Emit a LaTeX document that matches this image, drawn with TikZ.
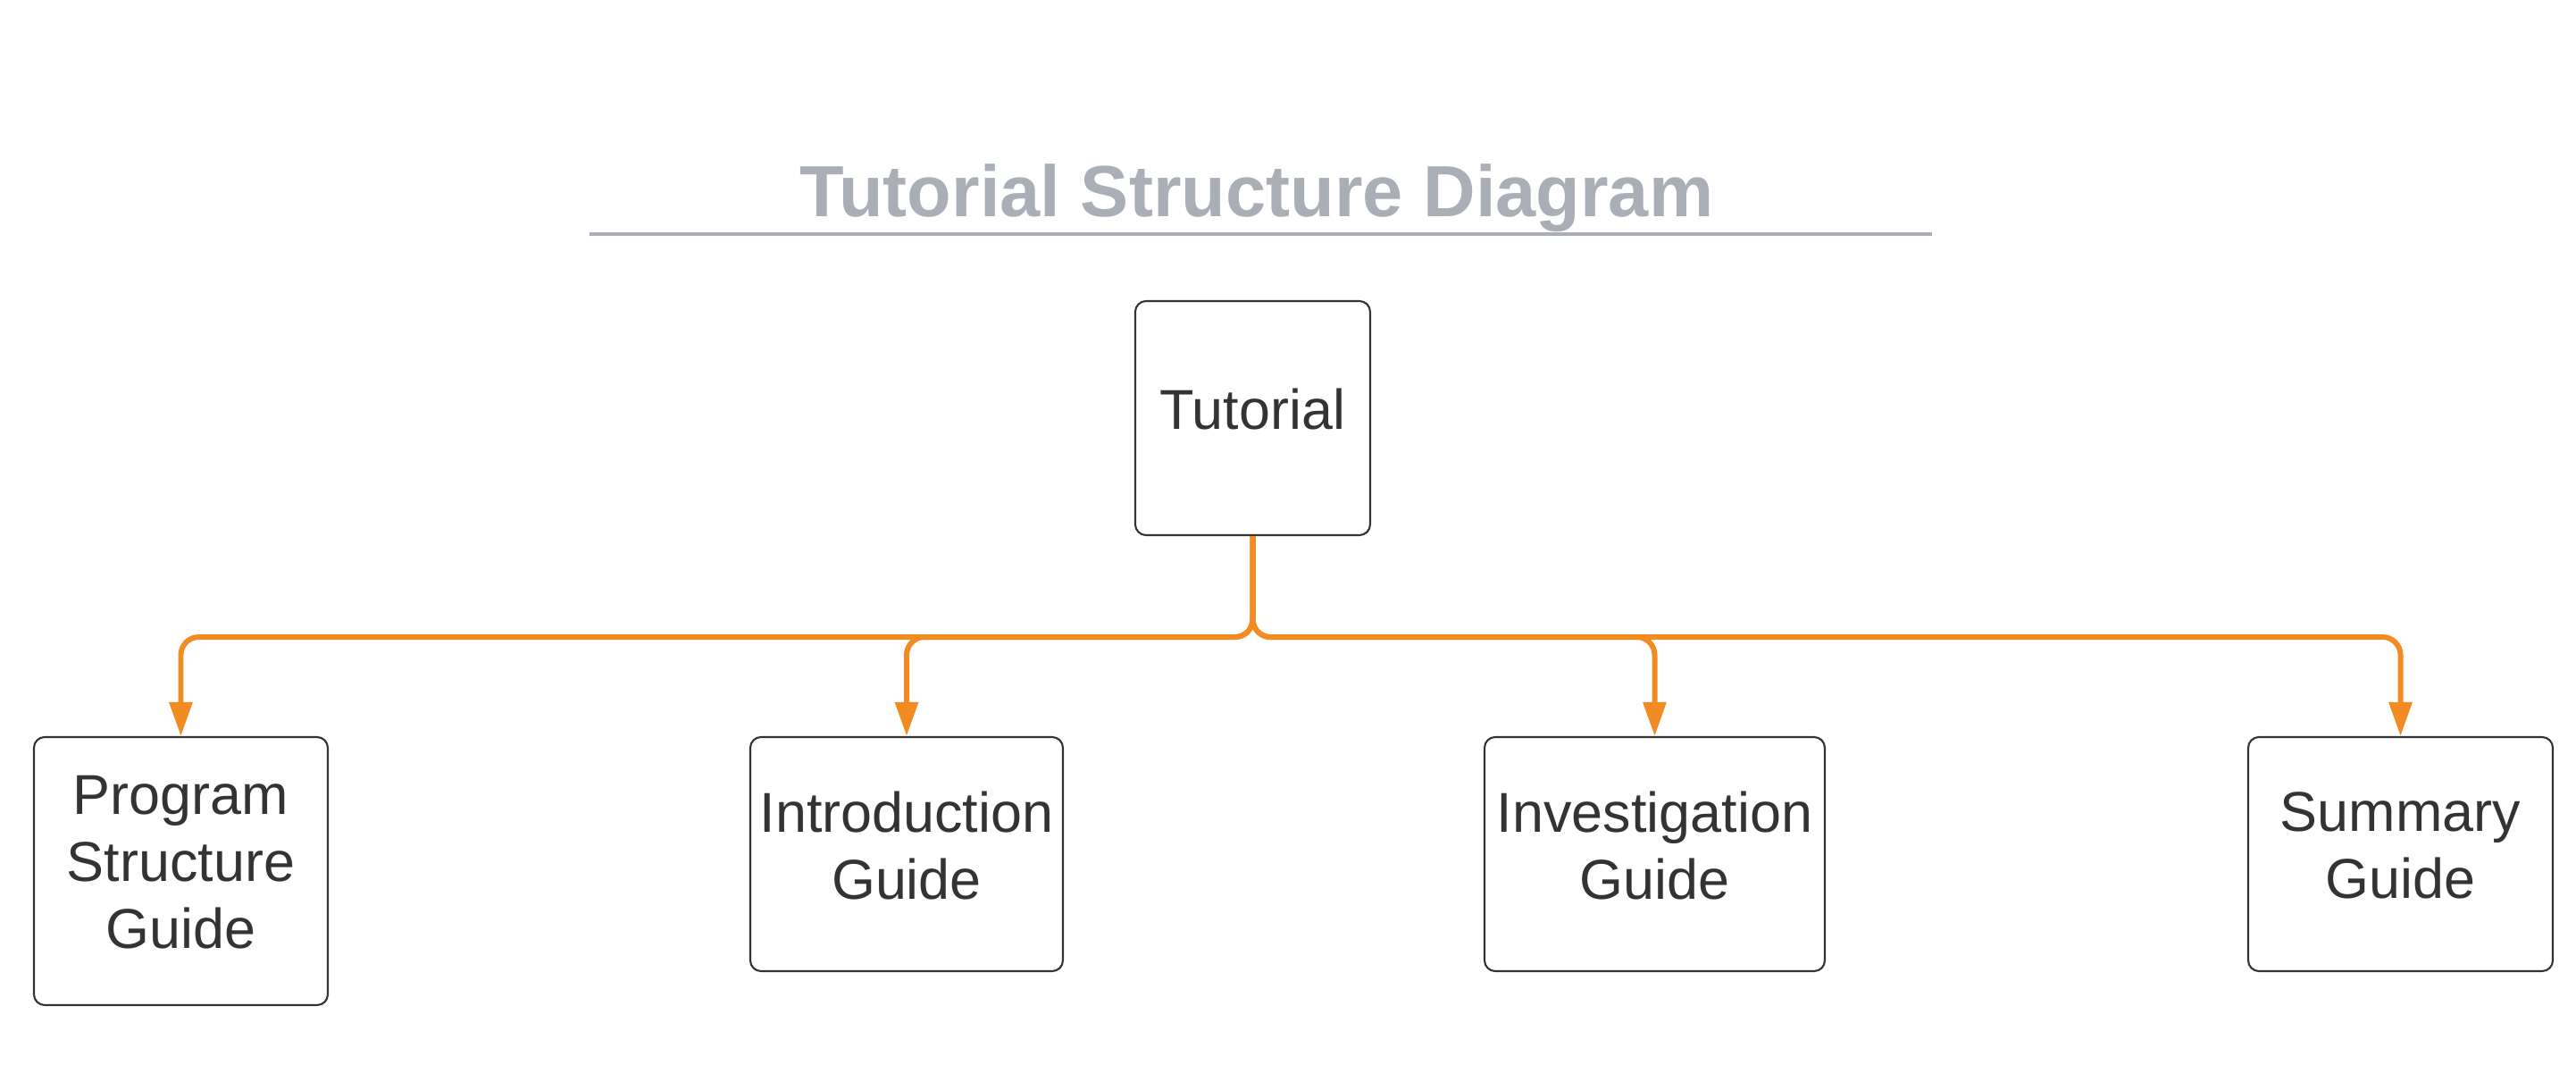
\documentclass[tikz,border=0pt]{standalone}
\usepackage{xcolor}
\usepackage{fontspec}
\setmainfont{Liberation Sans}
\usetikzlibrary{arrows.meta}
\definecolor{titlegray}{HTML}{A9AEB7}
\definecolor{boxtext}{HTML}{333333}
\definecolor{linkorange}{HTML}{F28C22}

\begin{document}
\begin{tikzpicture}[
		guide/.style={draw=boxtext,line width=0.6pt,rounded corners=0.12cm,align=center,text=boxtext,font=\fontsize{17.9}{21.3}\selectfont,inner sep=0pt,text depth=0.2cm,minimum height=2.62cm},
		link/.style={draw=linkorange,line width=1.7pt,rounded corners=0.2cm,-{Triangle[width=0.25cm,length=0.38cm]}}]
		\useasboundingbox (0,0) rectangle (28.84,12);
		\node[anchor=base,text=titlegray,font=\fontsize{23.1}{27}\selectfont\bfseries] (title) at (14.07,9.57) {Tutorial Structure Diagram};
		\draw[titlegray,line width=1pt] (6.60,9.38)--(21.63,9.38);
		\node[guide,minimum width=2.63cm] (tut) at (14.025,7.32) {Tutorial};
		\node[guide,minimum width=3.29cm,minimum height=3cm] (prog) at (2.025,2.25) {Program\\Structure\\Guide};
		\node[guide,minimum width=3.5cm] (intro) at (10.15,2.44) {Introduction\\Guide};
		\node[guide,minimum width=3.81cm] (invest) at (18.525,2.44) {Investigation\\Guide};
		\node[guide,minimum width=3.41cm] (summ) at (26.875,2.44) {Summary\\Guide};
		\foreach \child in {prog,intro,invest,summ}
			\draw[link] (tut.south)--++(0,-1.13)-|(\child.north);
		\end{tikzpicture}
\end{document}
